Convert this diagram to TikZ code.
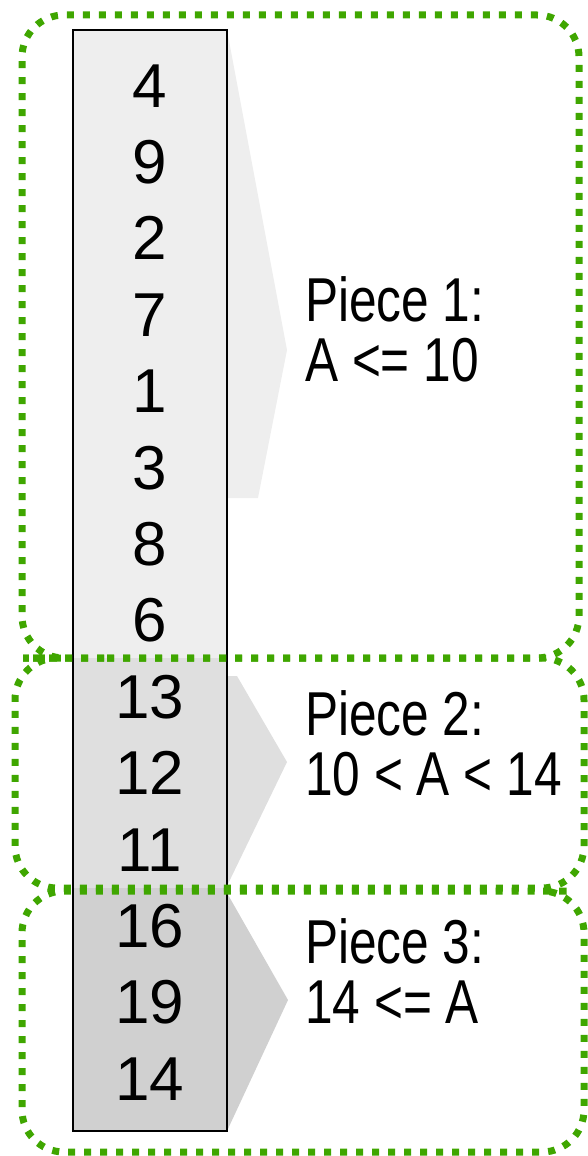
\documentclass[tikz,border=0pt]{standalone}
\usepackage{fontspec}
\setmainfont{Liberation Sans}
\newfontfamily\narrowfont[FakeStretch=0.8]{Liberation Sans}
\definecolor{PieceGreen}{RGB}{63,166,0}
\definecolor{PieceLight}{RGB}{238,238,238}
\definecolor{PieceMid}{RGB}{223,223,223}
\definecolor{PieceDark}{RGB}{208,208,208}

\tikzset{
    cell/.style={anchor=base, inner sep=0pt, font=\fontsize{62}{62}\selectfont},
    piecelabel/.style={anchor=base west, align=left, inner sep=0pt,
        font=\narrowfont\fontsize{62}{60}\selectfont},
    piecebox/.style={PieceGreen, line width=7pt,
        dash pattern=on 7pt off 9pt, rounded corners=42pt},
}

\begin{document}
\begin{tikzpicture}[x=1pt, y=-1pt]
    \useasboundingbox (0,0) rectangle (587,1156);
    % Wedges
    \fill[PieceLight] (227,30) -- (287,350) -- (258,498) -- (227,498) -- cycle;
    \fill[PieceMid] (227,676) -- (237,676) -- (287,762) -- (227,886) -- cycle;
    \fill[PieceDark] (227,893) -- (288,1000) -- (227,1131) -- cycle;
    % Column
    \fill[PieceLight] (73,30) rectangle (227,658);
    \fill[PieceMid] (73,658) rectangle (227,888);
    \fill[PieceDark] (73,888) rectangle (227,1131);
    \draw[line width=2pt] (73,30) rectangle (227,1131);
    \foreach \v [count=\i from 0] in {4,9,2,7,1,3,8,6,13,12,11,16,19,14} {
        \node[cell] (n\i) at (150,{107+76.4*\i}) {\v};
    }
    % Labels
    \node[piecelabel] (p1) at (305,381) {Piece 1:\\A <= 10};
    \node[piecelabel] (p2) at (305,795) {Piece 2:\\10 < A < 14};
    \node[piecelabel] (p3) at (305,1023) {Piece 3:\\14 <= A};
    % Pieces (shared edges start at the same point so the dots line up)
    \draw[piecebox] (65,658) -- (579,658) -- (579,15) -- (22,15) -- (22,658) -- cycle;
    \draw[piecebox] (65,658) -- (584,658) -- (584,888) -- (15,888) -- (15,658) -- cycle;
    \draw[piecebox] (528.94,891) -- (22,891) -- (22,1152) -- (584,1152) -- (584,891) -- cycle;
\end{tikzpicture}
\end{document}
